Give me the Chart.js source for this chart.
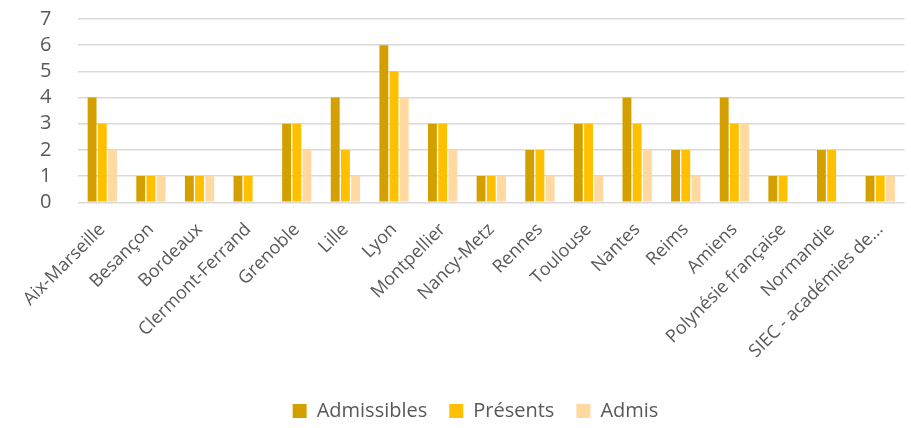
<!DOCTYPE html>
<html>
<head>
<meta charset="utf-8">
<script src="https://cdn.jsdelivr.net/npm/chart.js@4"></script>
<style>
  html, body { margin: 0; padding: 0; background: #fff; }
  #wrap { width: 911px; height: 428px; }
</style>
</head>
<body>
<div id="wrap"><canvas id="chart"></canvas></div>
<script>
// Data
const academies = ['Aix-Marseille', 'Besançon', 'Bordeaux', 'Clermont-Ferrand', 'Grenoble', 'Lille', 'Lyon',
    'Montpellier', 'Nancy-Metz', 'Rennes', 'Toulouse', 'Nantes', 'Reims', 'Amiens', 'Polynésie française',
    'Normandie', 'SIEC - académies de...'];
const admissibles = [4, 1, 1, 1, 3, 4, 6, 3, 1, 2, 3, 4, 2, 4, 1, 2, 1];
const presents    = [3, 1, 1, 1, 3, 2, 5, 3, 1, 2, 3, 3, 2, 3, 1, 2, 1];
const admis       = [2, 1, 1, 0, 2, 1, 4, 2, 1, 1, 1, 2, 1, 3, 0, 0, 1];
const yTicks = [0, 1, 2, 3, 4, 5, 6, 7];

const textColor = '#595959';
const font = 'Open Sans';

const mkSet = (label, data, color) => ({
    label: label,
    data: data,
    backgroundColor: color,
    borderWidth: 0,
    categoryPercentage: 0.63,
    barPercentage: 0.87
});

new Chart(document.getElementById('chart').getContext('2d'), {
    type: 'bar',
    data: {
        labels: academies,
        datasets: [
            mkSet('Admissibles', admissibles, '#D4A000'),
            mkSet('Présents', presents, '#FFC000'),
            mkSet('Admis', admis, '#FFD9A0')
        ]
    },
    options: {
        responsive: true,
        maintainAspectRatio: false,
        animation: false,
        layout: { padding: { left: 40, right: 0, top: 0, bottom: -3 } },
        plugins: {
            tooltip: { enabled: false },
            legend: {
                position: 'bottom',
                labels: {
                    color: textColor,
                    font: { family: font, size: 20 },
                    boxWidth: 14,
                    boxHeight: 14,
                    padding: 22
                }
            }
        },
        scales: {
            y: {
                min: 0,
                max: 7,
                afterBuildTicks: (axis) => { axis.ticks = yTicks.map(v => ({ value: v })); },
                afterFit: (axis) => { axis.width = 38; },
                border: { display: false },
                grid: { color: '#d9d9d9', lineWidth: 1.5, drawTicks: false },
                ticks: {
                    color: textColor,
                    font: { family: font, size: 20, lineHeight: 1 },
                    padding: 9,
                    autoSkip: false,
                    crossAlign: 'far'
                }
            },
            x: {
                border: { display: false },
                grid: { display: false, drawTicks: false },
                ticks: {
                    color: textColor,
                    font: { family: font, size: 18, lineHeight: 1 },
                    minRotation: 45,
                    maxRotation: 45,
                    autoSkip: false,
                    padding: 18
                }
            }
        }
    }
});
</script>
</body>
</html>
